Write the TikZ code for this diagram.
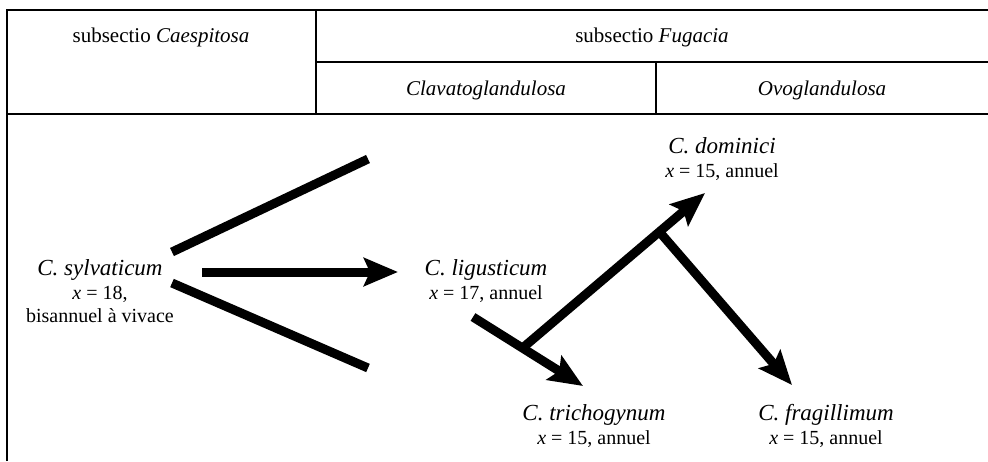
\documentclass[tikz,border=0pt]{standalone}
\usepackage{fontspec}
\setmainfont{Liberation Serif}
\usetikzlibrary{arrows.meta, calc}

\begin{document}
\begin{tikzpicture}[x=1pt, y=-1pt,
    frame/.style={line width=1.3pt},
    branch/.style={line width=9pt},
    evol/.style={branch, -{Stealth[length=34pt, width=28pt, inset=6pt]}},
    head/.style={anchor=base, inner sep=0pt, font=\fontsize{21}{25}\selectfont},
    taxon/.style={anchor=north, inner sep=0pt, align=center, font=\fontsize{20}{23}\selectfont}]
    \useasboundingbox (0,0) rectangle (988,461);

    % Draw the table frame
    \draw[frame] (7,461) -- (7,10) -- (988,10);
    \draw[frame] (7,114) -- (988,114);
    \draw[frame] (316,10) -- (316,114);
    \draw[frame] (316,62) -- (988,62);
    \draw[frame] (656,62) -- (656,114);

    % Column headings
    \node[head] (caesp) at (161,42) {subsectio \textit{Caespitosa}};
    \node[head] (fugac) at (652,42) {subsectio \textit{Fugacia}};
    \node[head] (clav) at (486,95) {\textit{Clavatoglandulosa}};
    \node[head] (ovo) at (822,95) {\textit{Ovoglandulosa}};

    % Taxa
    \node[taxon] (sylv) at (100,259) {{\fontsize{23}{27}\selectfont\itshape C. sylvaticum}\\[1pt] \textit{x} = 18,\\ bisannuel à vivace};
    \node[taxon] (ligu) at (486,259) {{\fontsize{23}{27}\selectfont\itshape C. ligusticum}\\[1pt] \textit{x} = 17, annuel};
    \node[taxon] (domi) at (722,137) {{\fontsize{23}{27}\selectfont\itshape C. dominici}\\[1pt] \textit{x} = 15, annuel};
    \node[taxon] (tric) at (594,404) {{\fontsize{23}{27}\selectfont\itshape C. trichogynum}\\[1pt] \textit{x} = 15, annuel};
    \node[taxon] (frag) at (826,404) {{\fontsize{23}{27}\selectfont\itshape C. fragillimum}\\[1pt] \textit{x} = 15, annuel};

    % End points of the branches
    \coordinate (s1) at (172,252);
    \coordinate (s1e) at (368,159);
    \coordinate (s2) at (172,283);
    \coordinate (s2e) at (368,368);
    \coordinate (s0) at (202,272);
    \coordinate (l0) at (398,272);
    \coordinate (l1) at (473,317);
    \coordinate (t0) at (583,386);
    \coordinate (d0) at (705,193);
    \coordinate (f0) at (792,385);
    \coordinate (j1) at ($(l1)!0.45!(t0)$);
    \coordinate (j2) at ($(j1)!0.75!(d0)$);

    % Draw the branches
    \draw[branch] (s1) -- (s1e);
    \draw[branch] (s2) -- (s2e);
    \draw[evol] (s0) -- (l0);
    \draw[evol] (l1) -- (t0);
    \draw[evol] (j1) -- (d0);
    \draw[evol] (j2) -- (f0);
\end{tikzpicture}
\end{document}
